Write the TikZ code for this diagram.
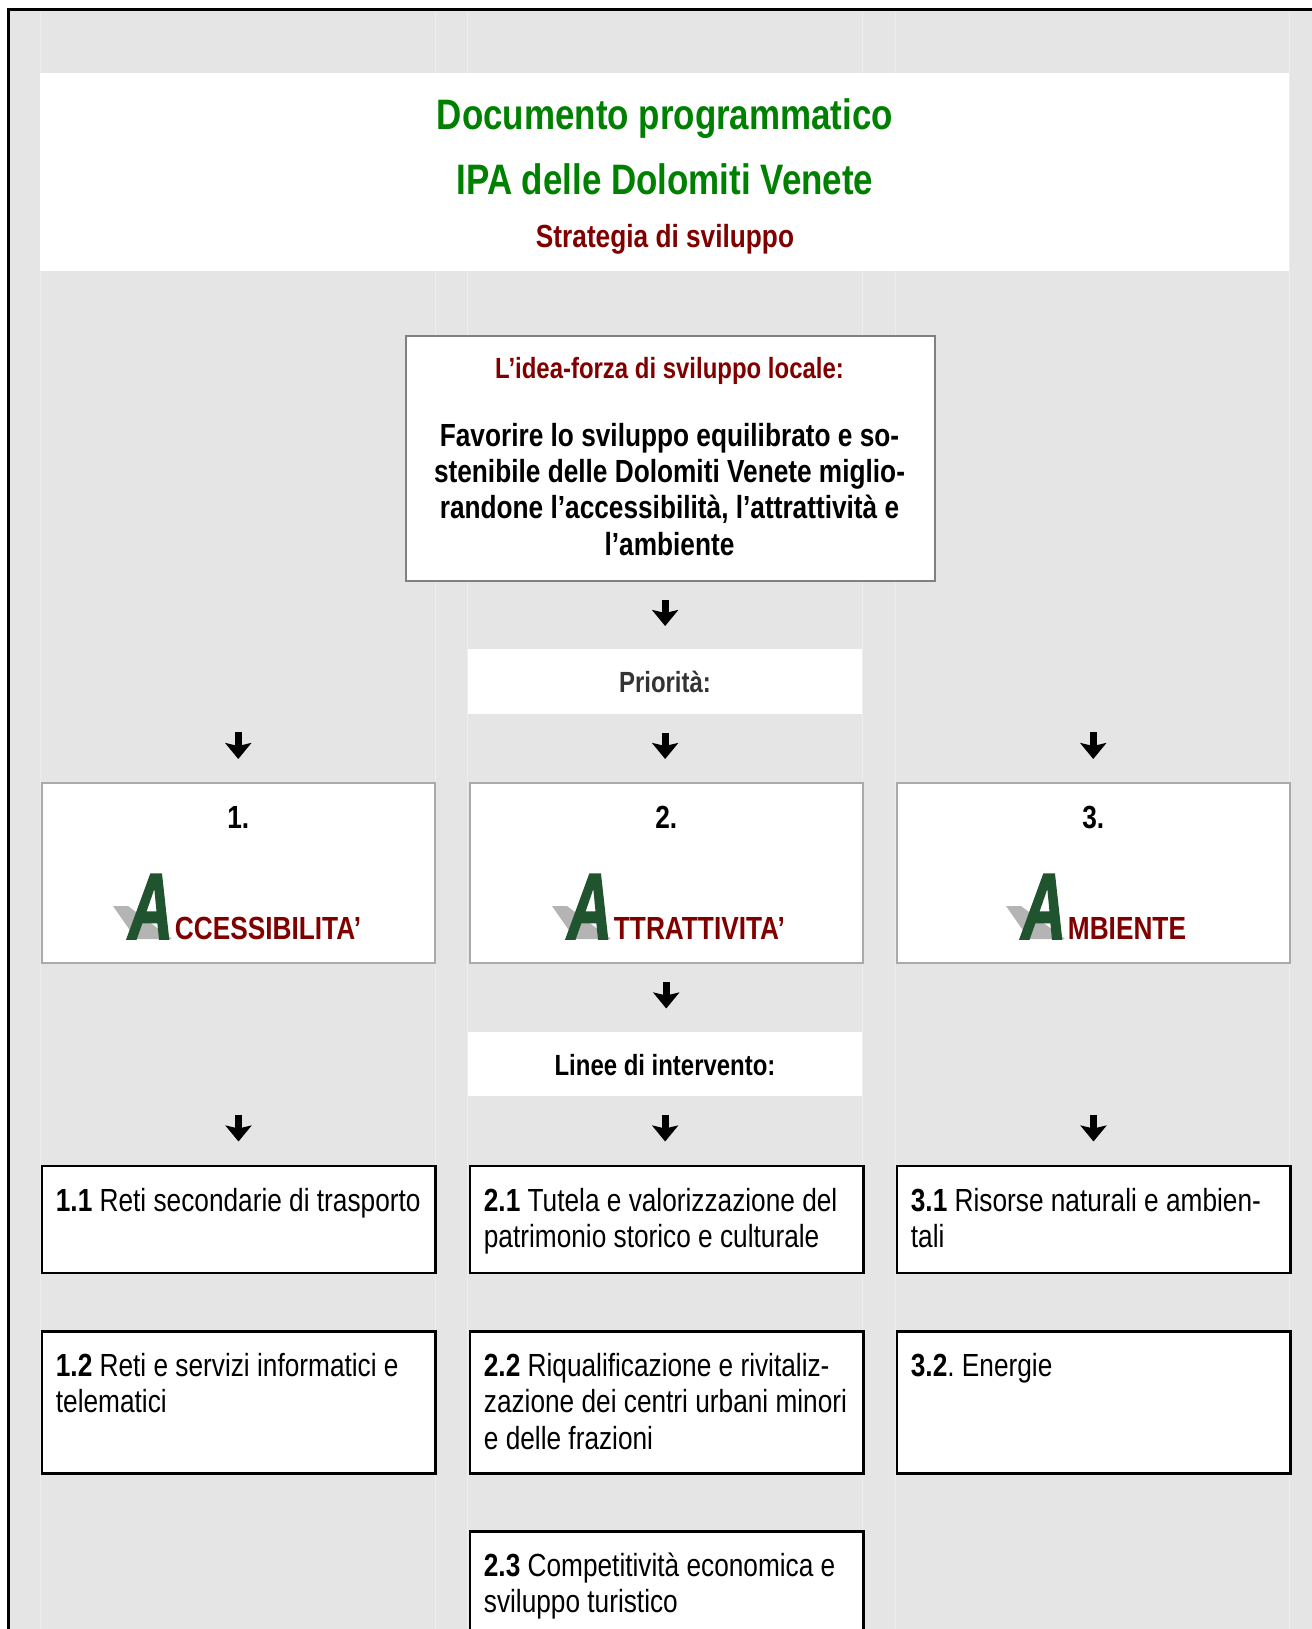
\documentclass[tikz,border=0pt]{standalone}
\usepackage{fontspec}
\setmainfont[FakeStretch=0.82]{Liberation Sans}
\newfontfamily\heavyfont[FakeStretch=0.82,FakeBold=2]{Liberation Sans}
\usepackage{graphicx}
\usetikzlibrary{arrows.meta}

\definecolor{docgreen}{RGB}{0,128,0}
\definecolor{docred}{RGB}{128,0,0}
\definecolor{bggray}{RGB}{229,229,229}
\definecolor{gridgray}{RGB}{237,237,237}
\definecolor{marble}{RGB}{32,84,46}
\definecolor{shadowgray}{RGB}{180,180,180}
\definecolor{ideagray}{RGB}{128,128,128}
\definecolor{prigray}{RGB}{170,170,170}
\definecolor{darktext}{RGB}{51,51,51}

\newcommand{\bigA}{\scalebox{0.8}[1]{\fontsize{47}{47}\heavyfont\bfseries\itshape A}}
\newcommand{\lefttext}[1]{\parbox[t]{186pt}{\raggedright\frenchspacing #1}}
\newcommand{\midtext}[1]{\parbox[t]{260pt}{\centering #1}}

\tikzset{
  arr/.style={line width=3.5pt, -{Stealth[length=8pt,width=13pt,inset=1.5pt]},
    shorten <=9pt, shorten >=11.5pt},
  plain/.style={fill=white, draw=none, anchor=north west, inner sep=0pt},
  ideabox/.style={plain, draw=ideagray, line width=1pt},
  pribox/.style={plain, draw=prigray, line width=1pt,
    minimum width=196.75pt, minimum height=90pt},
  linebox/.style={plain, draw=black, line width=1.25pt, minimum width=196.75pt},
  head/.style={font=\fontsize{14.6}{17}\selectfont\bfseries, anchor=base, inner sep=0pt},
  body/.style={font=\fontsize{16}{18.2}\selectfont, anchor=base west, inner sep=0pt},
  bigword/.style={anchor=base west, inner sep=0pt, font=\fontsize{16}{16}\selectfont\bfseries},
}

\begin{document}
\begin{tikzpicture}[x=0.5pt,y=-0.5pt]
  \clip (0,0) rectangle (1312,1629);
  \fill[white] (0,0) rectangle (1312,1629);
  \fill[bggray] (8,9) rectangle (1312,1629);
  \foreach \x in {40,435,467,862,895,1289}
    \draw[gridgray, line width=0.5pt] (\x,9) -- (\x,1629);
  \draw[line width=1.5pt] (8,1629) -- (8,9) -- (1312,9);

  % title
  \node[plain, minimum width=624.5pt, minimum height=99pt] (title) at (40,73) {};
  \node[font=\fontsize{21.3}{24}\selectfont\bfseries, text=docgreen, anchor=base, inner sep=0pt]
    (t1) at (665,129) {Documento programmatico};
  \node[font=\fontsize{21.3}{24}\selectfont\bfseries, text=docgreen, anchor=base, inner sep=0pt]
    (t2) at (665,194) {IPA delle Dolomiti Venete};
  \node[font=\fontsize{16}{18}\selectfont\bfseries, text=docred, anchor=base, inner sep=0pt]
    (t3) at (665,247) {Strategia di sviluppo};

  % idea-forza
  \node[ideabox, minimum width=264.5pt, minimum height=122.75pt] (idea) at (405,334.5) {};
  \node[head, text=docred] (ideahead) at (669.5,378) {L’idea-forza di sviluppo locale:};
  \node[font=\fontsize{16}{18.2}\selectfont\bfseries, anchor=base, inner sep=0pt]
    (ideatext) at (669.5,446) {\midtext{Favorire lo sviluppo equilibrato e so-\\
    stenibile delle Dolomiti Venete miglio-\\
    randone l’accessibilità, l’attrattività e\\
    l’ambiente}};

  % priorita
  \node[plain, minimum width=197.25pt, minimum height=32.5pt] (prio) at (467.5,649) {};
  \node[head, text=darktext] (priotext) at (665,692) {Priorità:};

  \node[pribox] (p1) at (40.5,782) {};
  \node[pribox] (p2) at (468.5,782) {};
  \node[pribox] (p3) at (895.5,782) {};

  \foreach \i/\ax/\w in {1/128/CCESSIBILITA’,2/567/TTRATTIVITA’,3/1021/MBIENTE}{
    \node[font=\fontsize{16}{18}\selectfont\bfseries, anchor=base, inner sep=0pt]
      (n\i) at ([yshift=-23pt]p\i.north) {\i.};
    \fill[shadowgray] (\ax-15,906) -- (\ax,906) -- (\ax+44,939) -- (\ax+8,939) -- cycle;
    \node[bigword] (a\i) at (\ax,939) {\textcolor{marble}{\bigA}\kern1pt\textcolor{docred}{\w}};
  }

  % linee di intervento
  \node[plain, minimum width=197.25pt, minimum height=32.25pt] (linee) at (467.5,1031.5) {};
  \node[head] (lineetext) at (665,1075) {Linee di intervento:};

  \node[linebox, minimum height=53.5pt] (l11) at (40.5,1164.5) {};
  \node[linebox, minimum height=53.5pt] (l21) at (468.5,1164.5) {};
  \node[linebox, minimum height=53.5pt] (l31) at (895.5,1164.5) {};
  \node[linebox, minimum height=71pt] (l12) at (40.5,1330) {};
  \node[linebox, minimum height=71pt] (l22) at (468.5,1330) {};
  \node[linebox, minimum height=71pt] (l32) at (895.5,1330) {};
  \node[linebox, minimum height=80pt] (l23) at (468.5,1530) {};

  \node[body] (t11) at ([shift={(7.5pt,-23.25pt)}]l11.north west)
    {\lefttext{\textbf{1.1} Reti secondarie di trasporto}};
  \node[body] (t12) at ([shift={(7.5pt,-23.25pt)}]l12.north west)
    {\lefttext{\textbf{1.2} Reti e servizi informatici e\\telematici}};
  \node[body] (t21) at ([shift={(7.5pt,-23.25pt)}]l21.north west)
    {\lefttext{\textbf{2.1} Tutela e valorizzazione del\\patrimonio storico e culturale}};
  \node[body] (t22) at ([shift={(7.5pt,-23.25pt)}]l22.north west)
    {\lefttext{\textbf{2.2} Riqualificazione e rivitaliz-\\zazione dei centri urbani minori\\e delle frazioni}};
  \node[body] (t23) at ([shift={(7.5pt,-23.25pt)}]l23.north west)
    {\lefttext{\textbf{2.3} Competitività economica e\\sviluppo turistico}};
  \node[body] (t31) at ([shift={(7.5pt,-23.25pt)}]l31.north west)
    {\lefttext{\textbf{3.1} Risorse naturali e ambien-\\tali}};
  \node[body] (t32) at ([shift={(7.5pt,-23.25pt)}]l32.north west)
    {\lefttext{\textbf{3.2}. Energie}};

  % arrows
  \draw[arr] (idea.south -| prio.north) -- (prio.north);
  \draw[arr] (prio.south) -- (prio.south |- p2.north);
  \draw[arr] ([yshift=34pt]p1.north) -- (p1.north);
  \draw[arr] ([yshift=34pt]p3.north) -- (p3.north);
  \draw[arr] (p2.south) -- (p2.south |- linee.north);
  \draw[arr] (linee.south) -- (linee.south |- l21.north);
  \draw[arr] ([yshift=34pt]l11.north) -- (l11.north);
  \draw[arr] ([yshift=34pt]l31.north) -- (l31.north);
\end{tikzpicture}
\end{document}
